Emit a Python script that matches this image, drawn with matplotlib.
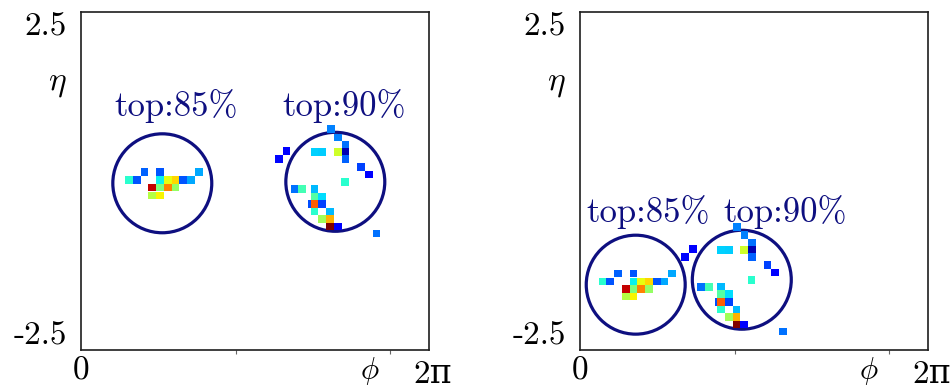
import matplotlib
matplotlib.use("Agg")
import numpy as np
import matplotlib.pyplot as plt
from matplotlib.patches import Rectangle, Ellipse
from matplotlib.collections import PatchCollection
from matplotlib.colors import Normalize

plt.rcParams['mathtext.fontset'] = 'cm'

# Calorimeter deposits of each jet: cell offsets from the jet axis (in cell units)
# and the normalised energy of the cell.
jet85_dphi = [-2.3, -0.3, 4.7,
              -4.3, -3.3, -0.3, 0.7, 1.7, 2.7, 3.7,
              -1.3, -0.3, 0.7, 1.7,
              -1.3, -0.3]
jet85_deta = [1.47, 1.47, 1.47,
              0.44, 0.44, 0.44, 0.44, 0.44, 0.44, 0.44,
              -0.58, -0.58, -0.58, -0.58,
              -1.59, -1.59]
jet85_e = [0.22, 0.21, 0.29,
           0.40, 0.21, 0.36, 0.63, 0.68, 0.21, 0.29,
           0.94, 0.50, 0.77, 0.53,
           0.57, 0.65]

jet90_dphi = [-0.6, 0.35, 1.3,
              -2.7, -1.7, 0.3, 1.3, 1.3,
              -6.3, -7.3, 3.3, 4.3, 1.25,
              -5.25, -4.25, -2.7,
              -2.7, -1.7,
              -3.0, -2.7, -1.7,
              -2.7, -0.7,
              -1.7, -0.7,
              -0.7, 0.3,
              5.3]
jet90_deta = [7.0, 5.9, 4.95,
              3.95, 3.95, 3.95, 3.95, 3.0,
              4.05, 3.0, 1.95, 0.97, 0.0,
              -0.95, -0.95, -0.95,
              -1.92, -1.92,
              -2.94, -2.94, -2.94,
              -3.92, -3.92,
              -4.93, -4.93,
              -5.95, -5.95,
              -6.87]
jet90_e = [0.25, 0.25, 0.235,
           0.33, 0.325, 0.60, 0.045, 0.22,
           0.12, 0.13, 0.19, 0.115, 0.40,
           0.235, 0.43, 0.305,
           0.45, 0.34,
           0.20, 0.81, 0.19,
           0.40, 0.305,
           0.545, 0.72,
           1.00, 0.12,
           0.235]

jet_labels = ['top:85%', 'top:90%']

# Jet axes (phi, eta) in the two event displays
jet_phi = [[1.653, 5.171], [1.133, 3.290]]
jet_eta = [[-0.080, -0.056], [-1.719, -1.639]]
# Label anchor points (centre, baseline)
label_phi = [[1.938, 5.342], [1.383, 4.162]]
label_eta = [[1.00, 1.00], [-0.70, -0.70]]

PHI_MAX = 7.076
ETA_LO, ETA_HI = -2.775, 2.689
CELL_W = 0.1576
CELL_H = 0.122
RADIUS = 1.006
NAVY = '#0e0f80'
SERIF = ['cmr10', 'DejaVu Serif']

FIG_W, FIG_H = 9.52, 3.88
DPI = 100
ax_w, ax_h = 348 / 952, 338 / 388
ax_lefts = [81 / 952, 580 / 952]
ax_bottom = 38 / 388

# keep the jet cone round on screen
px_per_phi = ax_w * FIG_W * DPI / PHI_MAX
px_per_eta = ax_h * FIG_H * DPI / (ETA_HI - ETA_LO)
radius_eta = RADIUS * px_per_phi / px_per_eta

jets = [(jet85_dphi, jet85_deta, jet85_e), (jet90_dphi, jet90_deta, jet90_e)]
norm = Normalize(0, 1)

fig = plt.figure(figsize=(FIG_W, FIG_H), dpi=DPI)
for p, left in enumerate(ax_lefts):
    ax = fig.add_axes([left, ax_bottom, ax_w, ax_h])
    ax.set_xlim(0, PHI_MAX)
    ax.set_ylim(ETA_LO, ETA_HI)

    for k, (dphi, deta, e) in enumerate(jets):
        cphi, ceta = jet_phi[p][k], jet_eta[p][k]
        ax.add_patch(Ellipse((cphi, ceta), 2 * RADIUS, 2 * radius_eta,
                             fill=False, edgecolor=NAVY, lw=2.3, zorder=2))
        rects = [Rectangle((cphi + dx * CELL_W - CELL_W / 2,
                            ceta + dy * CELL_H - CELL_H / 2), CELL_W, CELL_H)
                 for dx, dy in zip(dphi, deta)]
        pc = PatchCollection(rects, cmap='jet', norm=norm,
                             edgecolor='none', zorder=3)
        pc.set_array(np.asarray(e))
        ax.add_collection(pc)
        ax.text(label_phi[p][k], label_eta[p][k], jet_labels[k],
                ha='center', va='baseline', color=NAVY,
                fontfamily='cmr10', fontsize=25)

    for s in ax.spines.values():
        s.set_linewidth(1.2)
        s.set_color('#1e1e1e')

    ax.set_yticks([-2.5, 2.5])
    ax.set_yticklabels(['-2.5', '2.5'], fontfamily='cmr10', fontsize=24)
    ax.tick_params(axis='y', length=0, pad=10)

    ax.set_xticks([0])
    ax.set_xticklabels(['0'], fontfamily='cmr10', fontsize=24)
    ax.tick_params(axis='x', which='major', length=0, pad=5)
    ax.set_xticks([np.pi, 2 * np.pi], minor=True)
    ax.tick_params(axis='x', which='minor', length=3, width=0.8,
                   color='#666666', direction='out')

    bt = ax.get_xaxis_transform()
    ax.text(7.147, -0.030, '2π', transform=bt, ha='center', va='top',
            fontfamily=SERIF, fontsize=24)
    ax.text(5.866, -0.014, r'$\phi$', transform=bt, ha='center', va='top',
            fontsize=22)
    ax.text(-0.067, 0.79, r'$\eta$', transform=ax.transAxes,
            ha='center', va='center', fontsize=24)

fig.savefig('out.png', dpi=DPI)
